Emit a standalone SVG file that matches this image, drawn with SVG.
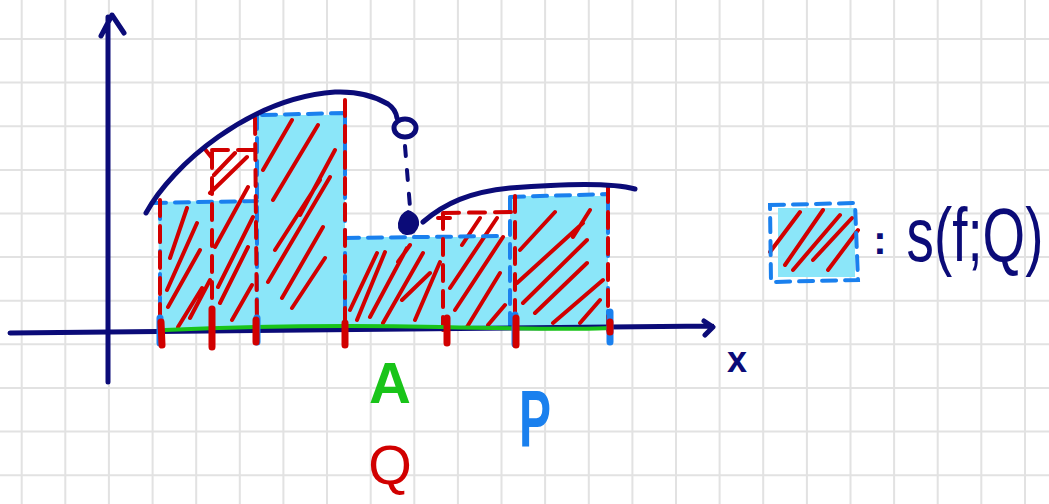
<svg xmlns="http://www.w3.org/2000/svg" width="1049" height="504" viewBox="0 0 1049 504">
<style>
.grid{stroke:#e2e2e2;stroke-width:2;fill:none}
.navy{stroke:#0b0b78;fill:none;stroke-linecap:round;stroke-linejoin:round}
.fillb{fill:#8be6f9}
.hatch{stroke:#d10000;stroke-width:4;stroke-linecap:round;fill:none}
.bdash{stroke:#1a80ee;stroke-width:4;stroke-dasharray:14 9;stroke-linecap:round;fill:none}
.rdash{stroke:#d10000;stroke-width:4;stroke-dasharray:16 10;stroke-linecap:round;fill:none}
.tick{stroke-width:7;stroke-linecap:round;fill:none}
.lbl{font-family:"Liberation Sans",Arial,sans-serif}
</style>
<rect width="1049" height="504" fill="#ffffff"/>
<g id="grid">
<path class="grid" d="M21.7 0V504M65.3 0V504M108.9 0V504M152.6 0V504M196.2 0V504M239.8 0V504M283.4 0V504M327 0V504M370.7 0V504M414.3 0V504M457.9 0V504M501.5 0V504M545.1 0V504M588.8 0V504M632.4 0V504M676 0V504M719.6 0V504M763.2 0V504M806.9 0V504M850.5 0V504M894.1 0V504M937.7 0V504M981.3 0V504M1025 0V504M0 39H1049M0 82.6H1049M0 126.2H1049M0 169.9H1049M0 213.5H1049M0 257.1H1049M0 300.7H1049M0 344.3H1049M0 388H1049M0 431.6H1049M0 475.2H1049"/>
</g>
<g id="lower-sum-fill">
<path class="fillb" d="M158 202L257 200L257 115L345 115L345 237L510 237L510 196L608 196L608 329L160 330Z"/>
</g>
<g id="hatching">
<path class="hatch" d="M170 258L187 208M167 290L197 223M168 307L200 250M178 327L202 288M190 318L210 280M210 193L247 157M214 175L235 153M215 247L248 187M218 287L253 217M220 303L248 247M232 320L252 285M263 170L292 120M273 200L318 125M268 282L330 177M275 250L320 180M282 298L323 227M292 308L325 258M300 215L335 150M350 310L377 253M357 320L385 252M370 317L407 248M383 323L423 253M402 300L430 273M415 320L440 262M398 262L410 245M450 288L497 218M455 310L503 237M467 327L500 273M488 325L505 305M462 245L480 218M517 283L583 223M523 303L587 240M535 313L587 263M553 323L603 280M580 323L600 300M573 237L590 210M520 250L555 212"/>
</g>
<g id="partition-P">
<path class="bdash" d="M152 203L257 201M160 205L160 330M257 115L257 330M262 115L345 113M345 115L345 330M345 238L500 236M510 198L510 330M510 197L608 194M608 196L608 330"/>
</g>
<g id="partition-Q">
<path class="rdash" d="M160 200L160 330M212 152L212 330M212 150L257 150M255 118L257 330M345 100L345 330M443 213L443 330M443 213L512 212M515 196L515 330M608 186L608 330"/>
<path class="hatch" d="M204 148L212 158M438 218L450 218"/>
</g>
<g id="axes">
<path class="navy" stroke-width="5" d="M108 382L108 17M101 36L112 15L124 33"/>
<path class="navy" stroke-width="5" d="M10 333L712 326M704 321L713 327L705 335"/>
</g>
<g id="set-A-line">
<path d="M165 330Q300 324 440 327T608 328" stroke="#19c419" stroke-width="4" fill="none" stroke-linecap="round"/>
</g>
<g id="function-graph">
<path class="navy" stroke-width="5" d="M146 213C172 165 250 98 335 92C360 91 378 98 388 104C394 108 396 112 397 118"/>
<ellipse class="navy" stroke-width="5" cx="405" cy="128" rx="11" ry="9"/>
<path class="navy" stroke-width="4" stroke-dasharray="10 14" d="M405 146L410 207"/>
<path fill="#0b0b78" d="M408 210Q420 214 419 225Q416 236 406 235Q397 233 398 223Q400 213 408 210Z"/>
<path class="navy" stroke-width="5" d="M423 222C445 203 470 192 510 188C560 184 610 182 635 189"/>
</g>
<g id="ticks">
<path class="tick" stroke="#1a80ee" d="M160 318L160 343M257 318L257 342M515 315L515 344M610 312L610 342"/>
<path class="tick" stroke="#d10000" d="M161 322L162 345M212 309L212 347M256 320L256 342M345 323L345 345M447 318L447 343M516 318L516 345M610 322L610 332"/>
</g>
<g id="labels">
<text class="lbl" x="737" y="372" font-size="36" fill="#0b0b78" font-weight="bold" text-anchor="middle">x</text>
<text class="lbl" x="390" y="403" font-size="58" fill="#19c419" font-weight="bold" text-anchor="middle">A</text>
<text class="lbl" transform="translate(535 446) scale(0.6 1)" font-size="80" fill="#1a80ee" font-weight="bold" text-anchor="middle">P</text>
<text class="lbl" x="390" y="484" font-size="56" fill="#d10000" text-anchor="middle">Q</text>
</g>
<g id="legend">
<rect x="778" y="208" width="77" height="69" class="fillb"/>
<path class="hatch" d="M770 252L800 212M785 265L823 210M793 270L840 215M813 260L852 218M828 270L858 230"/>
<path class="bdash" d="M770 205L855 203L858 280L771 282Z"/>
<text class="lbl" x="880" y="254" font-size="40" fill="#0b0b78" font-weight="bold" text-anchor="middle">:</text>
<text class="lbl" transform="translate(975 261) scale(0.72 1)" font-size="76" fill="#0b0b78" text-anchor="middle">s(f;Q)</text>
</g>
</svg>
